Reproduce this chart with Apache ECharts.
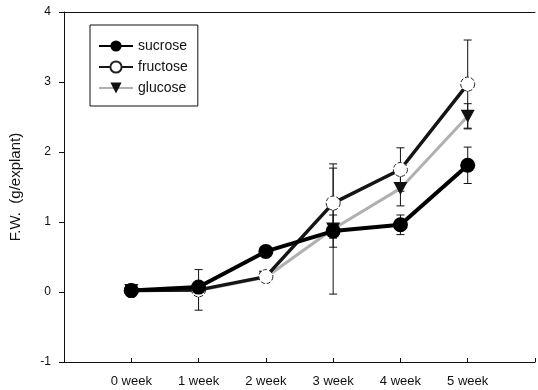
<!DOCTYPE html>
<html><head><meta charset="utf-8">
<script src="https://cdn.jsdelivr.net/npm/echarts@6/dist/echarts.min.js"></script>
<style>html,body{margin:0;padding:0;background:#fff}#c{width:538px;height:390px}</style>
</head><body><div id="c"></div>
<script>
const weeks = ['0 week','1 week','2 week','3 week','4 week','5 week'];
const yTicks = [-1, 0, 1, 2, 3, 4];
const sucrose = [0.02, 0.07, 0.58, 0.87, 0.96, 1.81];
const sucroseErr = [0, 0, 0, 0.23, 0.14, 0.26];
const fructose = [0.02, 0.03, 0.22, 1.27, 1.75, 2.97];
const fructoseErr = [0, 0.29, 0, 0.5, 0.31, 0.63];
const glucose = [0.02, 0.02, 0.21, 0.9, 1.48, 2.51];
const glucoseErr = [0, 0, 0, 0.93, 0.25, 0.18];

const font = '"Liberation Sans", Arial, sans-serif';
function pts(vals){ return vals.map((v,i)=>[i,v]); }
function errData(vals, errs){ return vals.map((v,i)=>[i,v,errs[i]]).filter(d=>d[2]>0); }
function errSeries(vals, errs){
  return {
    type:'custom', silent:true, z:1,
    data: errData(vals, errs),
    renderItem: function(params, api){
      const x = api.value(0), y = api.value(1), e = api.value(2);
      const top = api.coord([x, y+e]), bot = api.coord([x, y-e]);
      const hw = 4;
      const st = {stroke:'#111', lineWidth:1};
      return {type:'group', children:[
        {type:'line', shape:{x1:top[0],y1:top[1],x2:bot[0],y2:bot[1]}, style:st},
        {type:'line', shape:{x1:top[0]-hw,y1:top[1],x2:top[0]+hw,y2:top[1]}, style:st},
        {type:'line', shape:{x1:bot[0]-hw,y1:bot[1],x2:bot[0]+hw,y2:bot[1]}, style:st}
      ]};
    }
  };
}

const chart = echarts.init(document.getElementById('c'), null, {renderer:'canvas'});
chart.setOption({
  animation:false,
  backgroundColor:'#fff',
  grid:{left:61, right:2, top:12, bottom:28},
  legend:{
    orient:'vertical', left:90, top:25, itemWidth:34, itemHeight:14, itemGap:7,
    padding:[14,10,11,8], borderColor:'#111', borderWidth:1,
    textStyle:{fontFamily:font, fontSize:14, color:'#111'},
    data:['sucrose','fructose','glucose']
  },
  xAxis:[{
    type:'value', min:-1, max:6, interval:1, position:'bottom',
    axisLine:{onZero:false, lineStyle:{color:'#111', width:1}},
    axisTick:{inside:true, length:4, lineStyle:{color:'#111'}},
    splitLine:{show:false},
    axisLabel:{margin:13, fontFamily:font, fontSize:13, color:'#111',
      formatter: v => weeks[v] || ''}
  },{
    type:'value', position:'top', min:-1, max:6,
    axisLine:{show:true, onZero:false, lineStyle:{color:'#111', width:1}},
    axisTick:{show:false}, axisLabel:{show:false}, splitLine:{show:false}
  }],
  yAxis:{
    type:'value', min:yTicks[0], max:yTicks[yTicks.length-1], interval:1, position:'left',
    name:'F.W.  (g/explant)', nameLocation:'middle', nameGap:41,
    nameTextStyle:{fontFamily:font, fontSize:15, color:'#111'},
    axisLine:{show:true, onZero:false, lineStyle:{color:'#111', width:1}},
    axisTick:{show:true, inside:false, length:5, lineStyle:{color:'#111'}},
    splitLine:{show:false},
    axisLabel:{margin:13, fontFamily:font, fontSize:12, color:'#111'}
  },
  series:[
    errSeries(sucrose, sucroseErr),
    errSeries(fructose, fructoseErr),
    errSeries(glucose, glucoseErr),
    {name:'glucose', type:'line', data:pts(glucose), z:3,
      symbol:'triangle', symbolRotate:180, symbolSize:[14,13],
      lineStyle:{color:'#b0b0b0', width:3},
      itemStyle:{color:'#111', borderColor:'#111', borderWidth:0}},
    {name:'fructose', type:'line', data:pts(fructose), z:4,
      symbol:'circle', symbolSize:14,
      lineStyle:{color:'#151515', width:3.5},
      itemStyle:{color:'#fff', borderColor:'#222', borderWidth:1, borderType:'dashed'}},
    {name:'sucrose', type:'line', data:pts(sucrose), z:5,
      symbol:'circle', symbolSize:15,
      lineStyle:{color:'#000', width:4},
      itemStyle:{color:'#000', borderColor:'#000', borderWidth:0}}
  ]
});
</script></body></html>
